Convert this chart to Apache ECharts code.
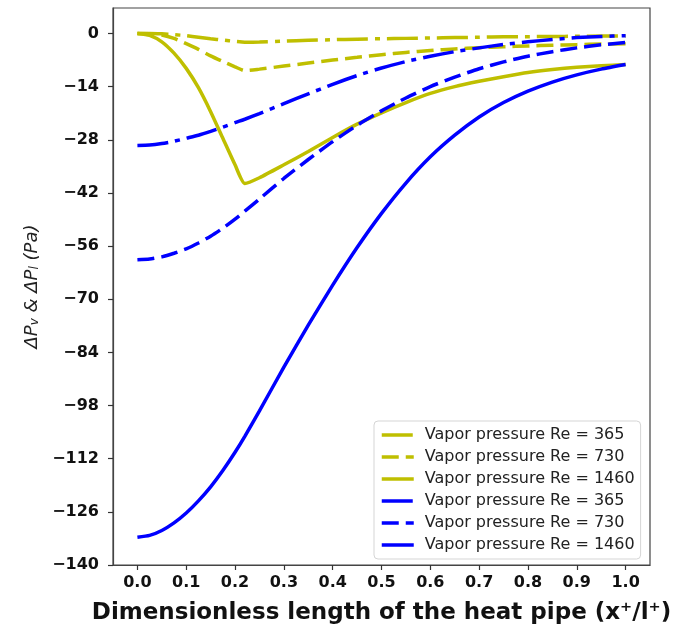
<!DOCTYPE html>
<html>
<head>
<meta charset="utf-8">
<script src="https://cdn.jsdelivr.net/npm/echarts/dist/echarts.min.js"></script>
<style>
  html, body { margin: 0; padding: 0; background: #fff; }
  #echart { width: 674px; height: 627px; }
</style>
</head>
<body>
<div id="echart"></div>
<script>
var dom = document.getElementById("echart");
var myChart = echarts.init(dom);

// x positions along the pipe (x+/l+)
let xs = [0, 0.025, 0.05, 0.075, 0.1, 0.125, 0.15, 0.175, 0.2, 0.22, 0.25, 0.3, 0.35, 0.4, 0.45, 0.5, 0.55, 0.6, 0.65, 0.7, 0.75, 0.8, 0.85, 0.9, 0.95, 1.0];

// yellow curves
let vap365 = [0, 0, -0.1, -0.3, -0.6, -1.0, -1.4, -1.75, -2.1, -2.3, -2.25, -2.0, -1.8, -1.65, -1.5, -1.4, -1.3, -1.2, -1.1, -1.0, -0.9, -0.85, -0.8, -0.75, -0.7, -0.65];
let vap730 = [0, -0.05, -0.4, -1.3, -2.7, -4.2, -5.9, -7.4, -8.8, -9.8, -9.4, -8.6, -7.8, -7.0, -6.3, -5.6, -5.0, -4.5, -4.1, -3.75, -3.5, -3.3, -3.1, -2.95, -2.8, -2.7];
let vap1460 = [0, -0.5, -2.2, -5.2, -9.2, -14.3, -20.6, -27.6, -34.6, -39.5, -38, -34.6, -31.1, -27.4, -23.9, -20.9, -18.2, -15.8, -14.0, -12.6, -11.4, -10.3, -9.5, -8.9, -8.5, -8.2];
// blue curves
let liq365 = [-29.5, -29.4, -29.0, -28.4, -27.6, -26.8, -25.8, -24.7, -23.5, -22.6, -21.1, -18.5, -15.9, -13.4, -11.1, -9.1, -7.4, -6.0, -4.8, -3.8, -2.9, -2.2, -1.6, -1.1, -0.8, -0.6];
let liq730 = [-59.6, -59.4, -58.85, -57.9, -56.75, -55.2, -53.4, -51.3, -48.9, -46.8, -43.6, -38.2, -33.2, -28.5, -24.2, -20.4, -17.0, -14.0, -11.5, -9.3, -7.5, -6.0, -4.8, -3.8, -3.0, -2.4];
let liq1460 = [-132.7, -132.2, -130.9, -128.9, -126.3, -123.1, -119.4, -115.1, -110.3, -106.1, -99.4, -87.9, -76.8, -66.3, -56.4, -47.4, -39.4, -32.5, -26.8, -22.0, -18.2, -15.2, -12.8, -10.9, -9.4, -8.2];

let seriesIds = ['vap365', 'vap730', 'vap1460', 'liq365', 'liq730', 'liq1460'];
let legendLabels = ['Vapor pressure Re = 365', 'Vapor pressure Re = 730', 'Vapor pressure Re = 1460',
                    'Vapor pressure Re = 365', 'Vapor pressure Re = 730', 'Vapor pressure Re = 1460'];

let xTicks = [0, 0.1, 0.2, 0.3, 0.4, 0.5, 0.6, 0.7, 0.8, 0.9, 1.0];
let yTicks = [-140, -126, -112, -98, -84, -70, -56, -42, -28, -14, 0];

function pairs(vals) {
    return xs.map(function (x, i) { return [x, vals[i]]; });
}

let dashed = [17, 7];
let dashdot = [31, 7, 5, 7];
let yellow = '#bfbf00';
let blue = '#0000ff';
let styles = [
    { color: yellow, dash: dashdot },
    { color: yellow, dash: dashed },
    { color: yellow, dash: 'solid' },
    { color: blue, dash: dashdot },
    { color: blue, dash: dashed },
    { color: blue, dash: 'solid' }
];
let values = [vap365, vap730, vap1460, liq365, liq730, liq1460];

let series = seriesIds.map(function (id, i) {
    return {
        name: id,
        type: 'line',
        data: pairs(values[i]),
        symbol: 'none',
        smooth: 0.2,
        lineStyle: { color: styles[i].color, width: 3.5, type: styles[i].dash, cap: 'butt' },
        itemStyle: { color: styles[i].color },
        z: 3
    };
});

let legendData = seriesIds.map(function (id, i) {
    return {
        name: id,
        itemStyle: { opacity: 0 },
        lineStyle: { color: styles[i].color, width: 3.5, type: styles[i].dash, cap: 'butt' }
    };
});

let tickFont = { fontFamily: 'DejaVu Sans', fontWeight: 'bold', fontSize: 16, color: '#111' };

var option = {
    animation: false,
    backgroundColor: '#fff',
    grid: {
        left: 113,
        right: 24,
        top: 8,
        bottom: 62,
        show: true,
        borderColor: '#444',
        borderWidth: 1.2,
        outerBoundsMode: 'none'
    },
    legend: {
        orient: 'vertical',
        left: 374,
        top: 421,
        padding: [6, 6, 6, 6],
        itemWidth: 32,
        itemHeight: 14,
        itemGap: 6,
        borderColor: '#d5d5d5',
        borderWidth: 1,
        borderRadius: 4,
        backgroundColor: 'rgba(255,255,255,0.85)',
        data: legendData,
        formatter: function (name) {
            return legendLabels[seriesIds.indexOf(name)];
        },
        textStyle: { fontFamily: 'DejaVu Sans', fontSize: 16, lineHeight: 16, color: '#222', padding: [0, 0, 0, 6] }
    },
    xAxis: {
        type: 'value',
        min: -0.05,
        max: 1.05,
        name: 'Dimensionless length of the heat pipe (x\u207A/l\u207A)',
        nameLocation: 'middle',
        nameGap: 37,
        nameTextStyle: { fontFamily: 'DejaVu Sans', fontWeight: 'bold', fontSize: 23, color: '#111' },
        axisLine: { show: true, onZero: false, lineStyle: { color: '#444', width: 1.2 } },
        axisTick: { show: true, length: 5, customValues: xTicks, lineStyle: { color: '#333', width: 1.2 } },
        axisLabel: Object.assign({
            margin: 10,
            customValues: xTicks,
            formatter: function (v) { return v.toFixed(1); }
        }, tickFont),
        splitLine: { show: false }
    },
    yAxis: {
        type: 'value',
        min: -140,
        max: 6.7,
        name: '{i|\u0394P}{s|v}{i| & \u0394P}{s|l}{i| (Pa)}',
        nameLocation: 'middle',
        nameRotate: 90,
        nameGap: 72,
        nameTextStyle: {
            rich: {
                i: { fontFamily: 'DejaVu Sans', fontStyle: 'italic', fontSize: 18, color: '#222', lineHeight: 24, verticalAlign: 'bottom' },
                s: { fontFamily: 'DejaVu Sans', fontStyle: 'italic', fontSize: 12, color: '#222', lineHeight: 12, verticalAlign: 'top', padding: [12, 0, 0, 0] }
            }
        },
        axisLine: { show: true, onZero: false, lineStyle: { color: '#444', width: 1.2 } },
        axisTick: { show: true, length: 5, customValues: yTicks, lineStyle: { color: '#333', width: 1.2 } },
        axisLabel: Object.assign({
            margin: 14,
            customValues: yTicks,
            formatter: function (v) { return v < 0 ? '\u2212' + (-v) : String(v); }
        }, tickFont),
        splitLine: { show: false }
    },
    series: series
};

if (option && typeof option === 'object') {
    myChart.setOption(option);
}

window.addEventListener('resize', function () {
    myChart.resize();
});
</script>
</body>
</html>
